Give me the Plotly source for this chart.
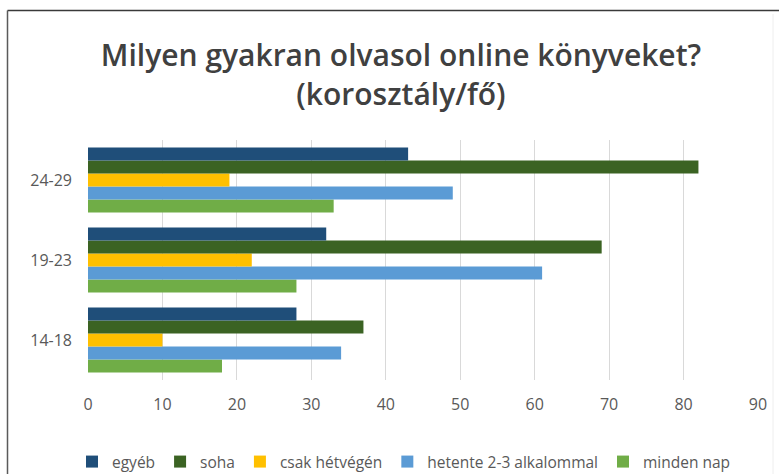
import plotly.graph_objects as go

categories = ["14-18", "19-23", "24-29"]
egyeb = [28, 32, 43]
soha = [37, 69, 82]
csak_hetvegen = [10, 22, 19]
hetente = [34, 61, 49]
minden_nap = [18, 28, 33]
x_ticks = [0, 10, 20, 30, 40, 50, 60, 70, 80, 90]

series = [
    ("minden nap", minden_nap, "#70AD47"),
    ("hetente 2-3 alkalommal", hetente, "#5B9BD5"),
    ("csak hétvégén", csak_hetvegen, "#FFC000"),
    ("soha", soha, "#3B6323"),
    ("egyéb", egyeb, "#1F4E79"),
]

fig = go.Figure()
for name, vals, col in series:
    fig.add_trace(go.Bar(
        y=categories, x=vals, name=name, orientation="h",
        marker=dict(color=col, line=dict(width=0)),
    ))

L, R, T, B = 88, 21, 140, 94
W, H = 779, 474
pw, ph = W - L - R, H - T - B

def px(x):
    return (x - L) / pw

def py(y):
    return (H - B - y) / ph

fig.update_layout(
    width=W, height=H,
    margin=dict(l=L, r=R, t=T, b=B, pad=0, autoexpand=False),
    paper_bgcolor="white", plot_bgcolor="white",
    barmode="group", bargap=0.19, bargroupgap=0,
    font=dict(family="Open Sans", color="#595959"),
    title=dict(
        text="Milyen gyakran olvasol online könyveket?<br>(korosztály/fő)",
        x=401 / W, xanchor="center", y=1 - 66 / H, yanchor="middle",
        font=dict(family="Open Sans", size=30, color="#404040", weight=600),
    ),
    xaxis=dict(
        range=[0, 90], tickvals=x_ticks, showgrid=True, gridcolor="#D9D9D9",
        gridwidth=1, zeroline=False, showline=False, ticks="",
        tickfont=dict(size=16, color="#595959"), ticklabelstandoff=13,
        fixedrange=True, automargin=False,
    ),
    yaxis=dict(
        categoryorder="array", categoryarray=categories,
        showgrid=False, zeroline=False, showline=False, ticks="",
        tickfont=dict(size=16, color="#595959"), ticklabelstandoff=15,
        fixedrange=True, automargin=False,
    ),
    legend=dict(
        orientation="h", xref="paper", yref="paper",
        x=px(404), xanchor="center", y=py(462), yanchor="middle",
        traceorder="reversed", font=dict(size=15.5, color="#595959"),
        itemwidth=30,
    ),
    shapes=[
        dict(type="line", xref="paper", yref="paper", x0=px(7.5), x1=px(779), y0=py(10.5), y1=py(10.5),
             line=dict(color="#3A3A3A", width=1.5)),
        dict(type="line", xref="paper", yref="paper", x0=px(7.5), x1=px(7.5), y0=py(10.5), y1=py(474),
             line=dict(color="#5A5A5A", width=1.5)),
        dict(type="line", xref="paper", yref="paper", x0=px(773), x1=px(773), y0=py(14), y1=py(474),
             line=dict(color="#EEEEEE", width=1)),
    ],
)

fig.write_html(
    "out.html",
    config={"displayModeBar": False},
    post_script=(
        "document.body.style.margin='0';"
        "document.body.style.overflow='hidden';"
        "document.documentElement.style.overflow='hidden';"
    ),
)
